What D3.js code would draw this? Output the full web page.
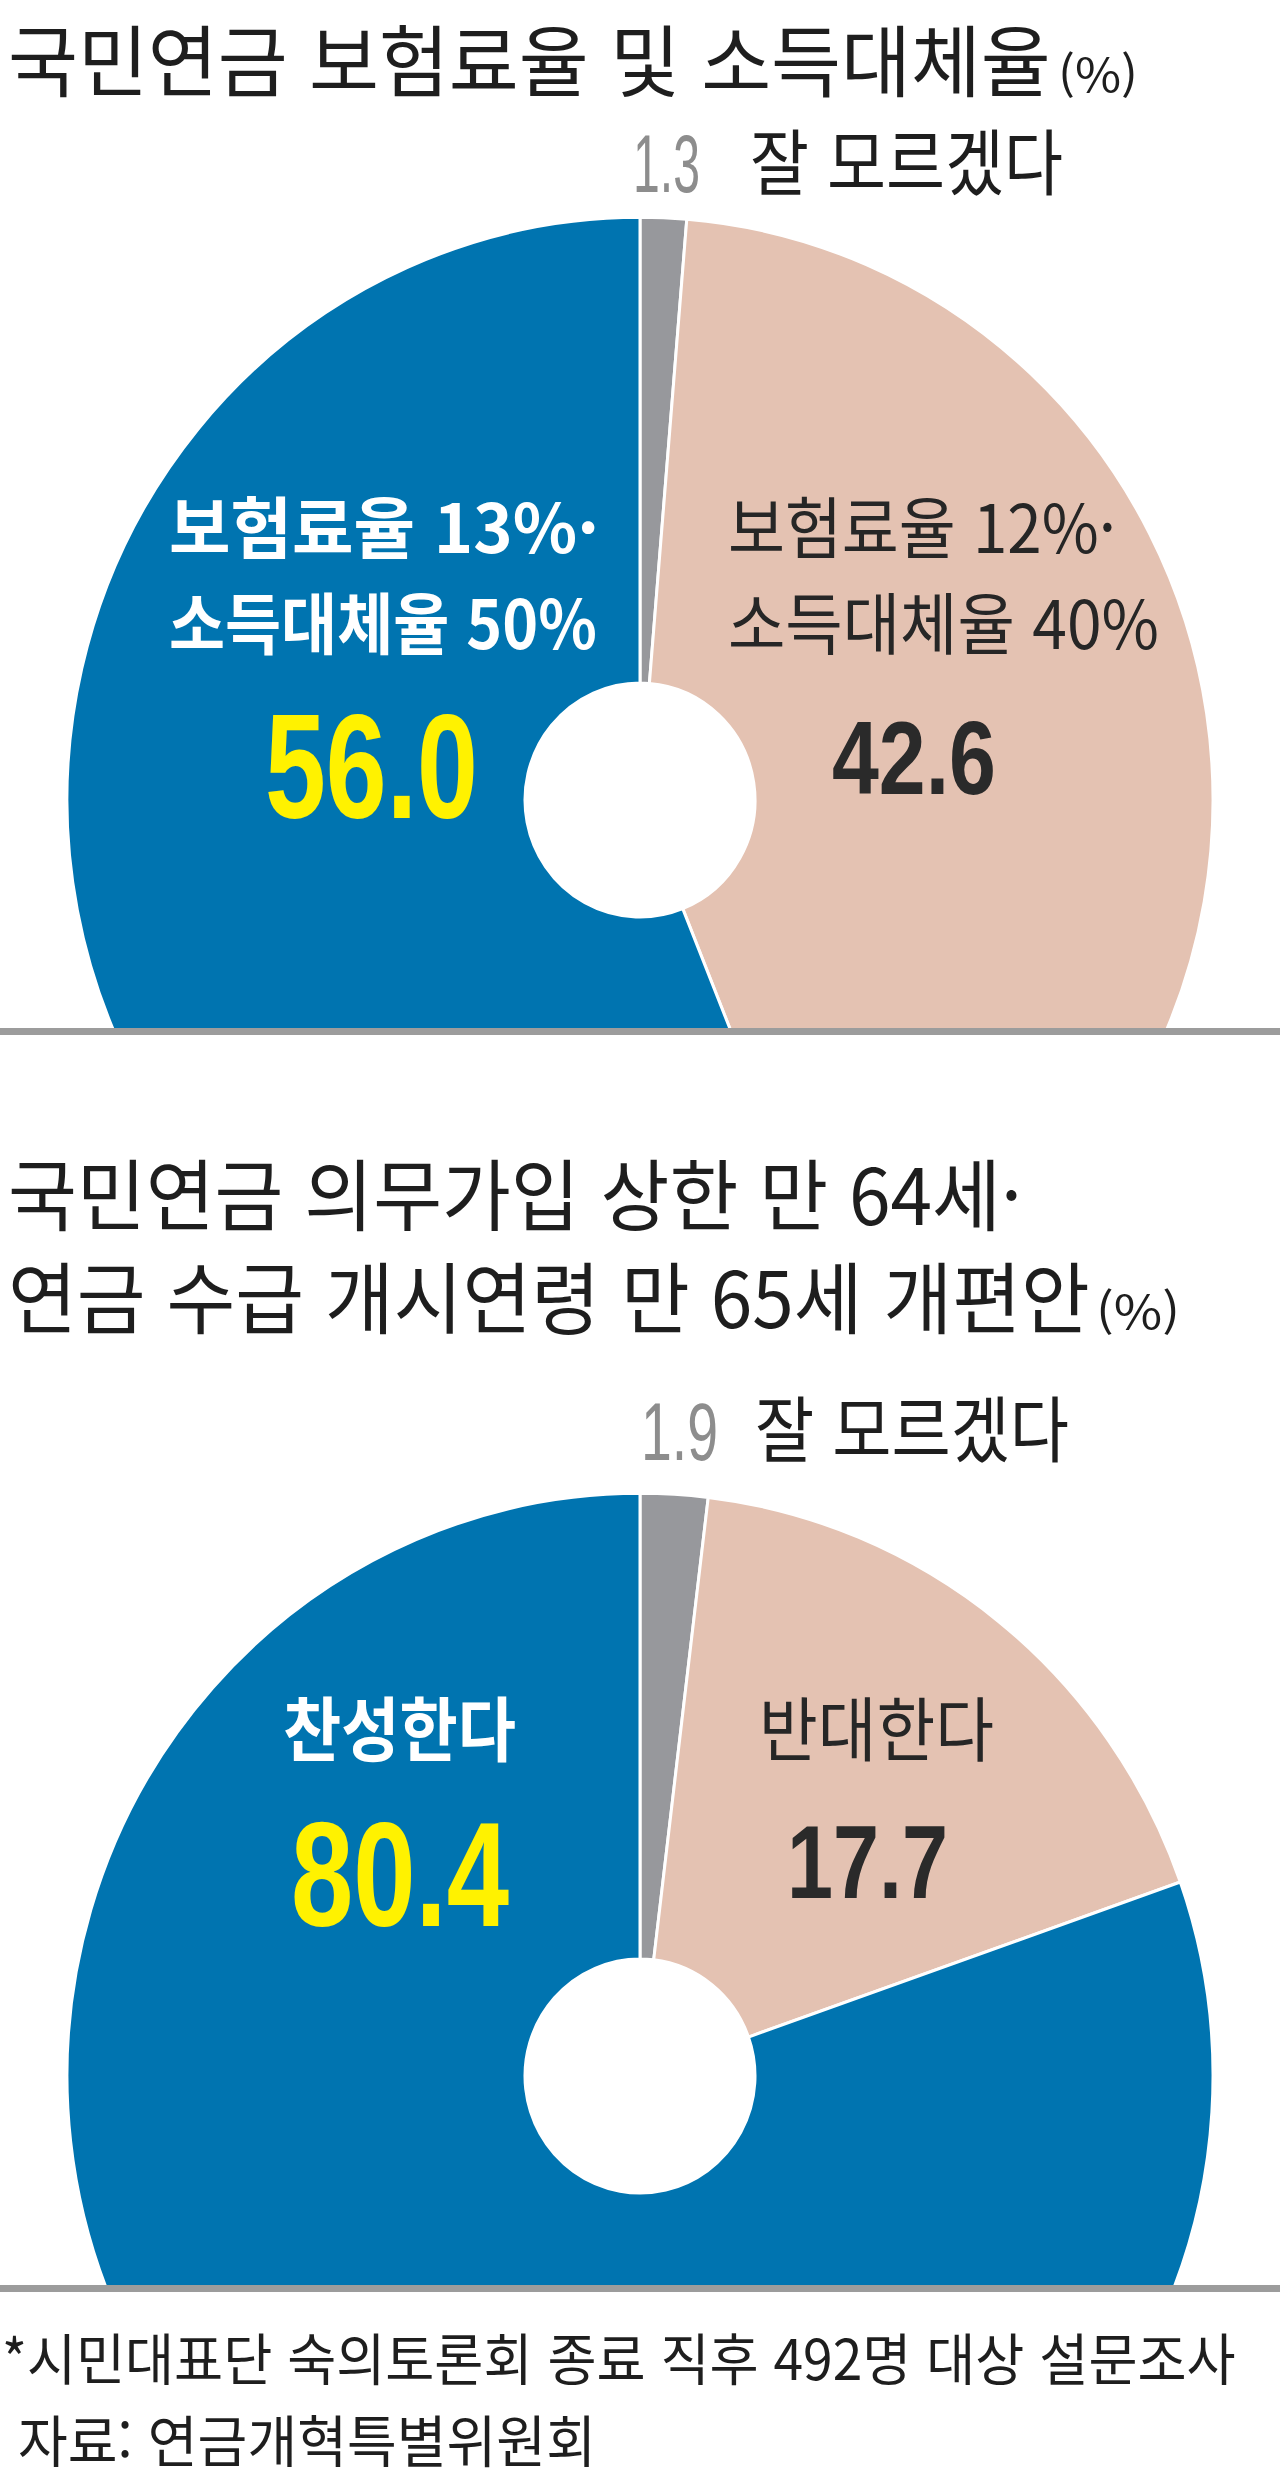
<!DOCTYPE html>
<html lang="ko">
<head>
<meta charset="utf-8">
<script src="https://cdn.jsdelivr.net/npm/d3@7"></script>
<style>
  html, body { margin: 0; padding: 0; background: #ffffff; }
  svg { display: block; }
</style>
</head>
<body>
<div id="chart"></div>
<script>
// ---------- data ----------
const chart1Title = "국민연금 보험료율 및 소득대체율";
const chart1Categories = ["잘 모르겠다", "보험료율 12%·소득대체율 40%", "보험료율 13%·소득대체율 50%"];
const chart1Values = [1.3, 42.6, 56.0];

const chart2TitleLines = ["국민연금 의무가입 상한 만 64세·", "연금 수급 개시연령 만 65세 개편안"];
const chart2Categories = ["잘 모르겠다", "반대한다", "찬성한다"];
const chart2Values = [1.9, 17.7, 80.4];

const unitLabel = "(%)";
const footnotes = ["*시민대표단 숙의토론회 종료 직후 492명 대상 설문조사", "자료: 연금개혁특별위원회"];

// ---------- style ----------
const COLORS = ["#97989c", "#e4c2b2", "#0074b0"];
const KR = "'Noto Sans CJK KR', 'Noto Sans KR', sans-serif";
const NUM = "'Liberation Sans Narrow', 'Liberation Sans', Arial, sans-serif";
const fmt = d3.format(".1f");

const W = 1280, H = 2479;
const svg = d3.select("#chart").append("svg").attr("width", W).attr("height", H)
  .style("background", "#ffffff");

// text placed at (x, baseline y), horizontally scaled to a target width
function txt(g, s, o) {
  const t = g.append("text")
    .attr("x", 0).attr("y", 0)
    .style("font-family", o.family || KR)
    .style("font-size", o.size + "px")
    .style("font-weight", o.weight || 400)
    .attr("fill", o.fill || "#1e1e1e")
    .text(s);
  let k = 1;
  if (o.width) {
    const w = t.node().getComputedTextLength();
    if (w > 0) k = o.width / w;
  }
  t.attr("transform", `translate(${o.x},${o.y}) scale(${k},1)`);
  return t;
}

function donut(values, cx, cy, clipBottom, id) {
  svg.append("defs").append("clipPath").attr("id", id)
    .append("rect").attr("x", 0).attr("y", 0).attr("width", W).attr("height", clipBottom);
  const g = svg.append("g").attr("clip-path", `url(#${id})`)
    .append("g").attr("transform", `translate(${cx},${cy}) scale(1,1.017)`);
  const pie = d3.pie().sort(null).value(d => d);
  const arc = d3.arc().innerRadius(115).outerRadius(573);
  g.selectAll("path").data(pie(values)).join("path")
    .attr("d", arc)
    .attr("fill", (d, i) => COLORS[i])
    .attr("stroke", "#ffffff")
    .attr("stroke-width", 3);
}

// ---------- chart 1 ----------
txt(svg, chart1Title, {x: 8, y: 91, size: 78, width: 1043});
txt(svg, unitLabel, {x: 1058, y: 92, size: 46, width: 80});

donut(chart1Values, 640, 800, 1029, "clip1");

txt(svg, fmt(chart1Values[0]), {x: 633, y: 192, size: 82, family: NUM, fill: "#8d8d8d", width: 67});
txt(svg, chart1Categories[0], {x: 750, y: 189, size: 72, width: 313});

txt(svg, "보험료율 13%·", {x: 169, y: 553, size: 67, weight: 700, fill: "#ffffff", width: 430});
txt(svg, "소득대체율 50%", {x: 169, y: 649, size: 67, weight: 700, fill: "#ffffff", width: 428});
txt(svg, fmt(chart1Values[2]), {x: 265, y: 818, size: 148, family: NUM, weight: 700, fill: "#fff200", width: 213});

txt(svg, "보험료율 12%·", {x: 728, y: 553, size: 67, fill: "#262626", width: 388});
txt(svg, "소득대체율 40%", {x: 728, y: 649, size: 67, fill: "#262626", width: 431});
txt(svg, fmt(chart1Values[1]), {x: 832, y: 794, size: 103, family: NUM, weight: 700, fill: "#2a2a2a", width: 164});

svg.append("rect").attr("x", 0).attr("y", 1028).attr("width", W).attr("height", 7).attr("fill", "#9c9c9c");

// ---------- chart 2 ----------
txt(svg, chart2TitleLines[0], {x: 8, y: 1225, size: 78, width: 1014});
txt(svg, chart2TitleLines[1], {x: 8, y: 1328, size: 78, width: 1082});
txt(svg, unitLabel, {x: 1096, y: 1329, size: 46, width: 84});

donut(chart2Values, 640, 2076, 2286, "clip2");

txt(svg, fmt(chart2Values[0]), {x: 641, y: 1460, size: 82, family: NUM, fill: "#8d8d8d", width: 77});
txt(svg, chart2Categories[0], {x: 755, y: 1456, size: 72, width: 314});

txt(svg, chart2Categories[2], {x: 283, y: 1756, size: 70, weight: 700, fill: "#ffffff", width: 233});
txt(svg, fmt(chart2Values[2]), {x: 291, y: 1926, size: 148, family: NUM, weight: 700, fill: "#fff200", width: 218});

txt(svg, chart2Categories[1], {x: 759, y: 1756, size: 70, fill: "#262626", width: 235});
txt(svg, fmt(chart2Values[1]), {x: 787, y: 1898, size: 103, family: NUM, weight: 700, fill: "#2a2a2a", width: 161});

svg.append("rect").attr("x", 0).attr("y", 2285).attr("width", W).attr("height", 7).attr("fill", "#9c9c9c");

// ---------- footnotes ----------
txt(svg, footnotes[0], {x: 2, y: 2380, size: 56, width: 1234});
txt(svg, footnotes[1], {x: 18, y: 2462, size: 56, width: 578});
</script>
</body>
</html>
